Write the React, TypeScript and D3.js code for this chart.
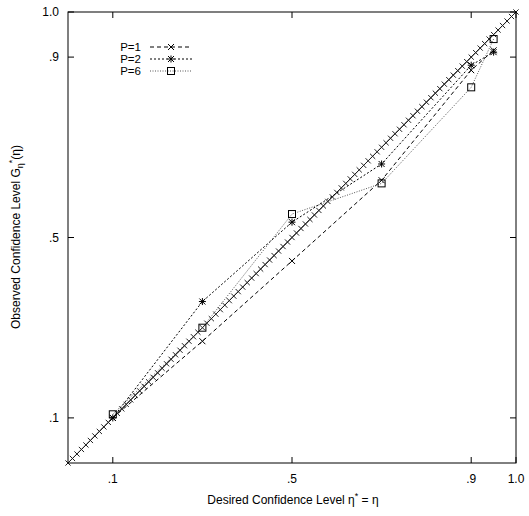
import React from "react";
import * as d3 from "d3";

const etaLevels = [0.1, 0.3, 0.5, 0.7, 0.9, 0.95];
const p1 = [0.1, 0.27, 0.448, 0.627, 0.871, 0.915];
const p2 = [0.1, 0.358, 0.534, 0.663, 0.882, 0.911];
const p6 = [0.108, 0.3, 0.552, 0.62, 0.833, 0.94];
const tickValues = [0.1, 0.5, 0.9, 1.0];
const tickLabels = [".1", ".5", ".9", "1.0"];
const seriesNames = ["P=1", "P=2", "P=6"];
// reference line y = x drawn with markers every 0.01
const diagonal = d3.range(0, 101).map((i) => i / 100);

const W = 529, H = 516;
const L = 68, R = 516, T = 12, B = 463;

function Marker({ type, x, y }: { type: string; x: number; y: number }) {
  const s = 3;
  if (type === "x") {
    return (
      <path d={`M${x - s},${y - s}L${x + s},${y + s}M${x - s},${y + s}L${x + s},${y - s}`} stroke="#000" strokeWidth={1} fill="none" />
    );
  }
  if (type === "star") {
    return (
      <path d={`M${x - s},${y - s}L${x + s},${y + s}M${x - s},${y + s}L${x + s},${y - s}M${x - s - 0.5},${y}L${x + s + 0.5},${y}M${x},${y - s - 0.5}L${x},${y + s + 0.5}`} stroke="#000" strokeWidth={1} fill="none" />
    );
  }
  return <rect x={x - 3.5} y={y - 3.5} width={7} height={7} stroke="#000" strokeWidth={1} fill="none" />;
}

export default function App() {
  const x = d3.scaleLinear().domain([0, 1]).range([L, R]);
  const y = d3.scaleLinear().domain([0, 1]).range([B, T]);
  const line = d3.line<[number, number]>().x((d) => x(d[0])).y((d) => y(d[1]));

  const series = [
    { name: seriesNames[0], vals: p1, marker: "x", dash: "4,3", color: "#000" },
    { name: seriesNames[1], vals: p2, marker: "star", dash: "2,2", color: "#000" },
    { name: seriesNames[2], vals: p6, marker: "sq", dash: "1,1.5", color: "#555" },
  ];

  const tl = 6;
  const font = "Liberation Sans, Arial, Helvetica, sans-serif";
  const ds = 2.6;

  return (
    <svg width={W} height={H} style={{ position: "absolute", left: 0, top: 0 }} fontFamily={font}>
      <rect width={W} height={H} fill="#fff" />
      {/* diagonal reference */}
      <path d={line(diagonal.map((v) => [v, v]) as [number, number][]) || ""} stroke="#000" strokeWidth={1} fill="none" />
      {diagonal.map((v, i) => (
        <path key={i} d={`M${x(v) - ds},${y(v) - ds}L${x(v) + ds},${y(v) + ds}M${x(v) - ds},${y(v) + ds}L${x(v) + ds},${y(v) - ds}`} stroke="#222" strokeWidth={1} fill="none" />
      ))}
      {series.map((s, si) => (
        <g key={si}>
          <path d={line(etaLevels.map((e, i) => [e, s.vals[i]]) as [number, number][]) || ""} stroke={s.color} strokeWidth={1} strokeDasharray={s.dash} fill="none" />
          {etaLevels.map((e, i) => (
            <Marker key={i} type={s.marker} x={x(e)} y={y(s.vals[i])} />
          ))}
        </g>
      ))}
      {/* frame */}
      <rect x={L} y={T} width={R - L} height={B - T} fill="none" stroke="#000" strokeWidth={1} />
      {tickValues.map((t, i) => (
        <g key={"t" + i}>
          <line x1={x(t)} x2={x(t)} y1={B} y2={B - tl} stroke="#000" />
          <line x1={x(t)} x2={x(t)} y1={T} y2={T + tl} stroke="#000" />
          <line x1={L} x2={L + tl} y1={y(t)} y2={y(t)} stroke="#000" />
          <line x1={R} x2={R - tl} y1={y(t)} y2={y(t)} stroke="#000" />
          <text x={x(t)} y={B + 20} fontSize={12} textAnchor="middle">{tickLabels[i]}</text>
          <text x={L - 9} y={y(t) + 4} fontSize={12} textAnchor="end">{tickLabels[i]}</text>
        </g>
      ))}
      {/* legend */}
      {series.map((s, si) => {
        const ly = 47 + si * 12;
        return (
          <g key={"l" + si}>
            <text x={141} y={ly + 4} fontSize={11.5} textAnchor="end">{s.name}</text>
            <line x1={150} x2={192} y1={ly} y2={ly} stroke={s.color} strokeDasharray={s.dash} />
            <Marker type={s.marker} x={171} y={ly} />
          </g>
        );
      })}
      {/* axis labels */}
      <text x={293} y={504} fontSize={12} textAnchor="middle">
        Desired Confidence Level η<tspan dy={-5} fontSize={9}>*</tspan><tspan dy={5}> = η</tspan>
      </text>
      <text transform={`translate(20,${237}) rotate(-90)`} fontSize={12} textAnchor="middle">
        Observed Confidence Level G<tspan dy={3} fontSize={9}>η</tspan><tspan dy={-8} fontSize={9}>*</tspan><tspan dy={5}>(η)</tspan>
      </text>
    </svg>
  );
}
